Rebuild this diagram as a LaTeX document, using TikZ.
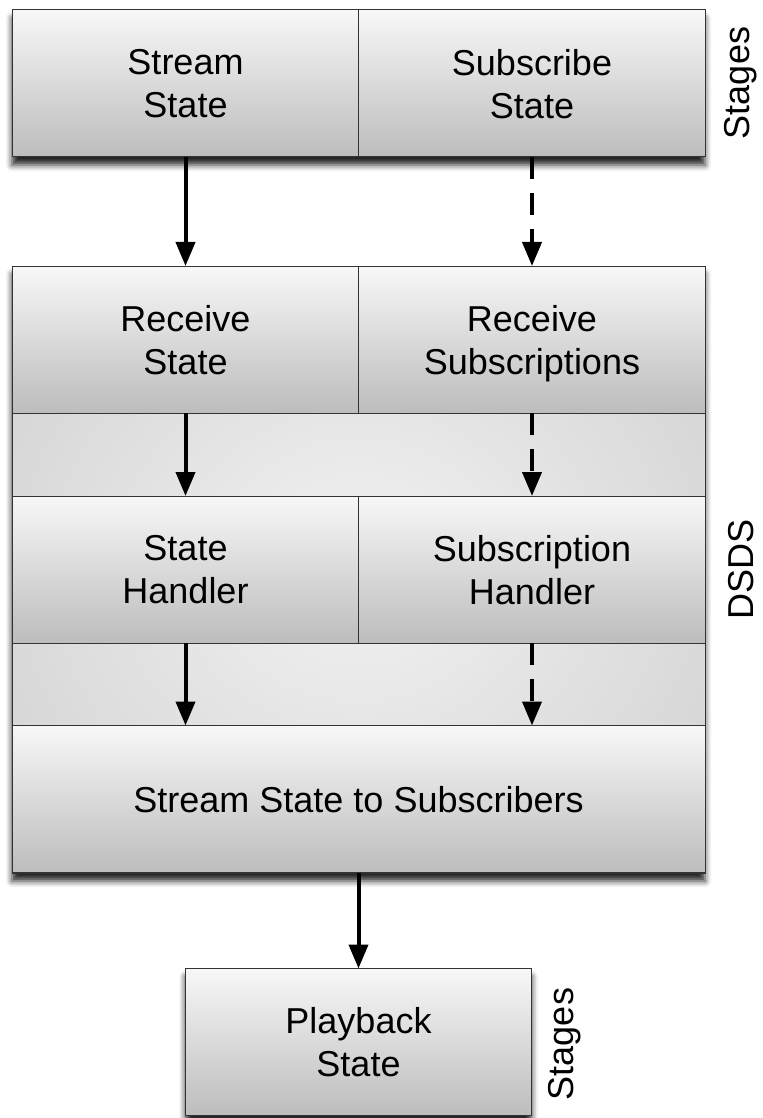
\documentclass[tikz,border=0pt]{standalone}
\usepackage{fontspec}
\setmainfont{Liberation Sans}
\usetikzlibrary{arrows.meta,shadows.blur}

\definecolor{glowin}{gray}{0.95}
\definecolor{glowout}{gray}{0.76}
\pgfdeclareradialshading{dsdsglow}{\pgfpoint{0bp}{0bp}}{color(0bp)=(glowin); color(50bp)=(glowout)}

\begin{document}
\begin{tikzpicture}
  [
    x=0.5pt, y=-0.5pt,
    cell/.style={draw=black!80, line width=0.5pt, top color=black!3, bottom color=black!26,
      minimum width=173.25pt, minimum height=73.5pt, inner sep=0pt, outer sep=0pt,
      text depth=0pt, align=center, font=\fontsize{18}{21.5}\selectfont},
    widecell/.style={cell, minimum width=346.5pt},
    rowbox/.style={fill=white, minimum width=346.5pt, minimum height=73.5pt,
      inner sep=0pt, outer sep=0pt},
    dsdsbox/.style={draw=black!80, line width=0.5pt, shading=dsdsglow,
      minimum width=346.5pt, minimum height=303.5pt, inner sep=0pt, outer sep=0pt},
    tier/.style={rotate=90, font=\fontsize{18}{21.5}\selectfont},
    flow/.style={line width=2pt, -{Triangle[length=12pt,width=9.5pt]}},
    subflow/.style={flow, dash pattern=on 11pt off 7pt},
    castshadow/.style={blur shadow={shadow xshift=0pt, shadow yshift=-4pt,
      shadow blur radius=3pt, shadow opacity=85}}
  ]
  \useasboundingbox (0,0) rectangle (762,1118);
  % stages in
  \node [rowbox, castshadow] (stagesrow) at (358.5,83.5) {};
  \node [cell] (stream) at (185.5,83.5) {Stream\\State};
  \node [cell] (subscribe) at (532,83.5) {Subscribe\\State};
  \node [tier] (stagesin) at (741,83) {Stages};
  % dsds
  \node [dsdsbox, castshadow] (dsds) at (358.5,569.5) {};
  \node [cell] (recvstate) at (185.5,339.5) {Receive\\State};
  \node [cell] (recvsubs) at (532,339.5) {Receive\\Subscriptions};
  \node [cell] (statehandler) at (185.5,569.5) {State\\Handler};
  \node [cell] (subhandler) at (532,569.5) {Subscription\\Handler};
  \node [widecell] (fanout) at (358.5,799) {Stream State to Subscribers};
  \node [tier] (dsdslabel) at (741,569) {DSDS};
  % stages out
  \node [cell, castshadow] (playback) at (358.5,1042) {Playback\\State};
  \node [tier] (stagesout) at (565,1044) {Stages};
  % state path
  \draw [flow] (stream.south) -- (recvstate.north);
  \draw [flow] (recvstate.south) -- (statehandler.north);
  \draw [flow] (statehandler.south) -- (statehandler.south |- fanout.north);
  % subscription path
  \draw [subflow] (subscribe.south) -- (recvsubs.north);
  \draw [subflow] (recvsubs.south) -- (subhandler.north);
  \draw [subflow] (subhandler.south) -- (subhandler.south |- fanout.north);
  % playback
  \draw [flow] (fanout.south) -- (playback.north);
\end{tikzpicture}
\end{document}
